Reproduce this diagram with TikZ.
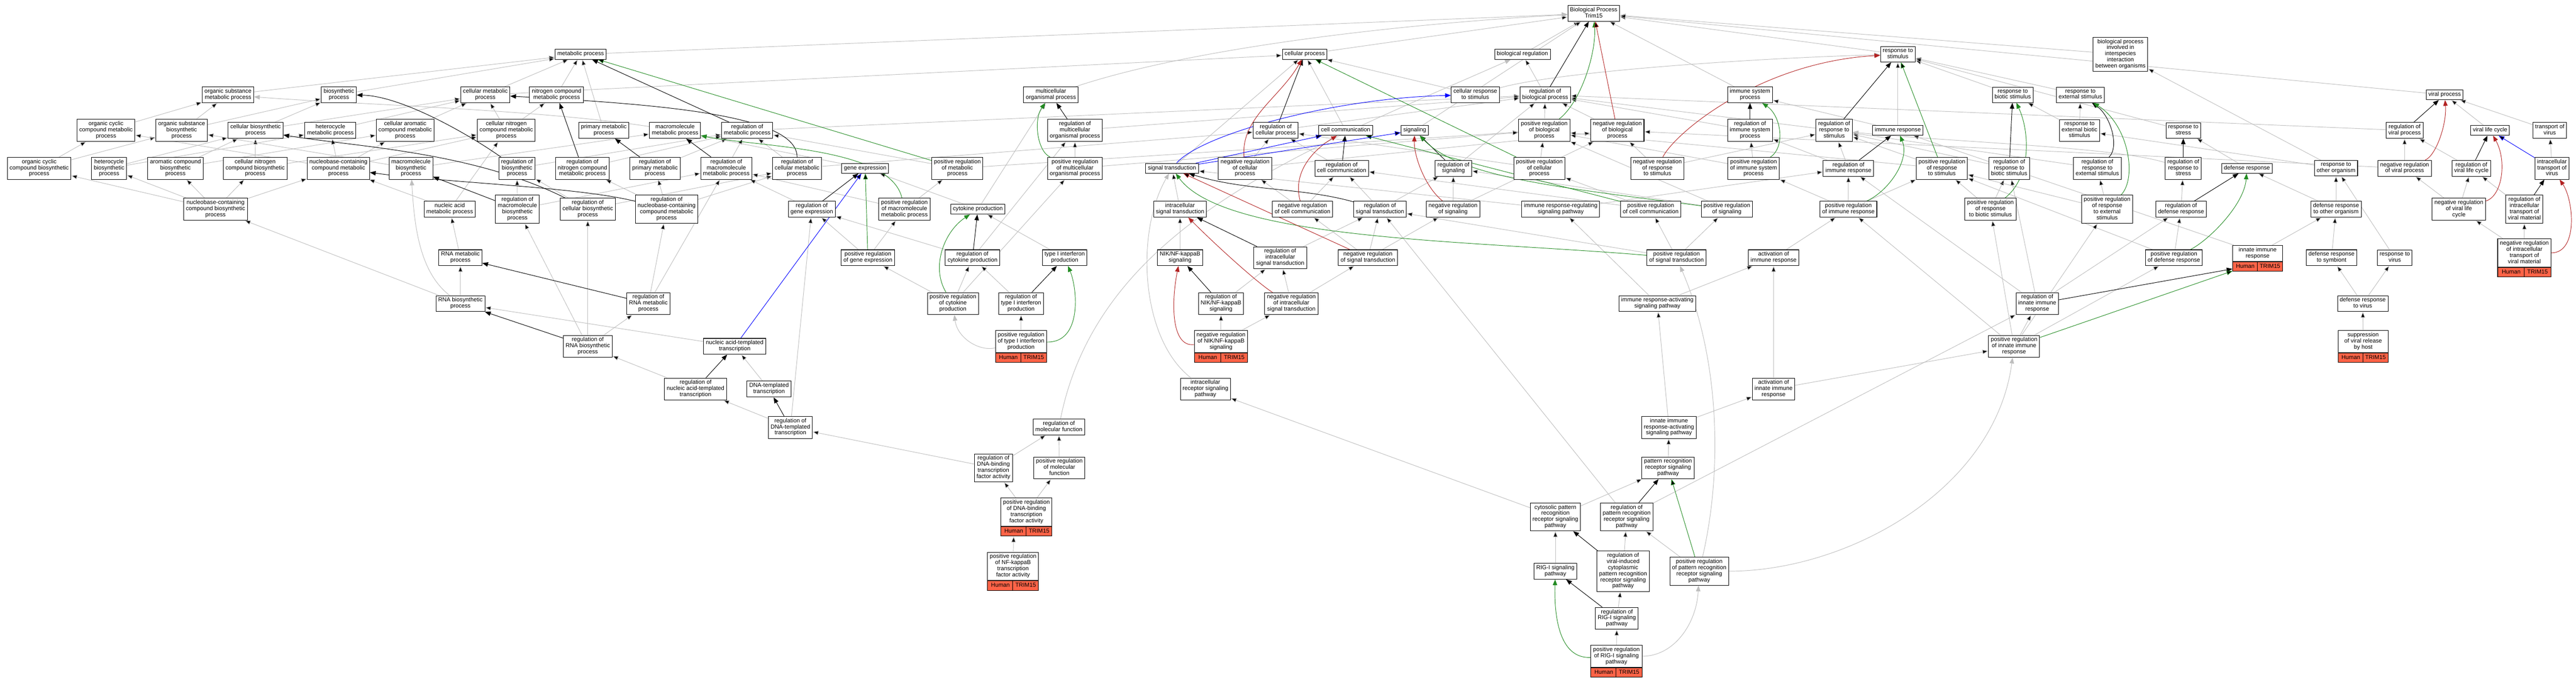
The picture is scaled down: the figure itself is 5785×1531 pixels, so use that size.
\documentclass[tikz,border=0pt]{standalone}
\usepackage{fontspec}
\setmainfont{Liberation Sans}
\usetikzlibrary{arrows.meta,calc}

\definecolor{isagray}{RGB}{190,190,190}
\definecolor{posgreen}{RGB}{34,139,34}
\definecolor{negred}{RGB}{178,34,34}
\definecolor{partblue}{RGB}{0,0,255}
\definecolor{hitred}{RGB}{255,99,71}

\pgfdeclarelayer{edges}
\pgfsetlayers{edges,main}

\newcommand{\gofont}{\fontsize{13}{13.7}\selectfont}
\newcommand{\gostrut}{\rule[-4pt]{0pt}{13.6pt}}
\newcommand{\hitrow}[1]{%
  \path let \p1=($(#1.east)-(#1.west)$) in
    node[hitcell, minimum width=0.5*\x1, anchor=north west] (#1-h) at (#1.south west) {Human}
    node[hitcell, minimum width=0.5*\x1, anchor=north east] (#1-t) at (#1.south east) {TRIM15};}

\begin{document}
\begin{tikzpicture}[x=1pt, y=1pt,
  term/.style={draw=black, line width=1.2pt, fill=white, align=center, font=\gofont,
    inner xsep=5pt, inner ysep=4.3pt, execute at begin node=\gostrut, execute at end node=\gostrut},
  hit/.style={term, minimum width=112},
  hitcell/.style={draw=black, line width=1.2pt, fill=hitred, font=\gofont, inner xsep=1pt,
    inner ysep=0pt, minimum height=21.5, text height=9.6pt, text depth=3pt},
  isa/.style={draw=isagray, line width=1.1pt, -{Triangle[length=13pt,width=10pt]}},
  regl/.style={isa, draw=black},
  posreg/.style={isa, draw=posgreen},
  negreg/.style={isa, draw=negred},
  partof/.style={isa, draw=partblue}]
\useasboundingbox (0,0) rectangle (5785,-1531);

\node[term] (bp) at (3579,-30) {Biological Process\\Trim15};

\node[term] (mp) at (1304,-122) {metabolic process};
\node[term] (cp) at (2930,-122) {cellular process};
\node[term] (breg) at (3419,-122) {biological regulation};
\node[term] (rstim) at (4262,-122) {response to\\stimulus};
\node[term] (bpint) at (4762,-122) {biological process\\involved in\\interspecies\\interaction\\between organisms};

\node[term] (osmp) at (512,-213) {organic substance\\metabolic process};
\node[term] (bsp) at (761,-213) {biosynthetic\\process};
\node[term] (cmp) at (1090,-213) {cellular metabolic\\process};
\node[term] (ncmp) at (1250,-213) {nitrogen compound\\metabolic process};
\node[term] (mop) at (2360,-213) {multicellular\\organismal process};
\node[term] (crs) at (3313,-213) {cellular response\\to stimulus};
\node[term] (rbp) at (3470,-213) {regulation of\\biological process};
\node[term] (isp) at (3930,-213) {immune system\\process};
\node[term] (rbs) at (4520,-213) {response to\\biotic stimulus};
\node[term] (res) at (4672,-213) {response to\\external stimulus};
\node[term] (vp) at (5490,-213) {viral process};

\node[term] (occmp) at (238,-293) {organic cyclic\\compound metabolic\\process};
\node[term] (osbp) at (408,-293) {organic substance\\biosynthetic\\process};
\node[term] (cbp) at (574,-293) {cellular biosynthetic\\process};
\node[term] (hmp) at (742,-293) {heterocycle\\metabolic process};
\node[term] (camp) at (910,-293) {cellular aromatic\\compound metabolic\\process};
\node[term] (cncmp) at (1137,-293) {cellular nitrogen\\compound metabolic\\process};
\node[term] (pmp) at (1356,-293) {primary metabolic\\process};
\node[term] (mmp) at (1516,-293) {macromolecule\\metabolic process};
\node[term] (rmp) at (1678,-293) {regulation of\\metabolic process};
\node[term] (rmop) at (2414,-293) {regulation of\\multicellular\\organismal process};
\node[term] (rcp) at (2865,-293) {regulation of\\cellular process};
\node[term] (cc) at (3022,-293) {cell communication};
\node[term] (sig) at (3177,-293) {signaling};
\node[term] (prbp) at (3468,-293) {positive regulation\\of biological\\process};
\node[term] (nrbp) at (3632,-293) {negative regulation\\of biological\\process};
\node[term] (risp) at (3930,-293) {regulation of\\immune system\\process};
\node[term] (rrs) at (4119,-293) {regulation of\\response to\\stimulus};
\node[term] (ir) at (4262,-293) {immune response};
\node[term] (rebs) at (4670,-293) {response to\\external biotic\\stimulus};
\node[term] (rstr) at (4903,-293) {response to\\stress};
\node[term] (rvp) at (5400,-293) {regulation of\\viral process};
\node[term] (vlc) at (5592,-293) {viral life cycle};
\node[term] (tv) at (5726,-293) {transport of\\virus};

\node[term] (occbp) at (88,-378) {organic cyclic\\compound biosynthetic\\process};
\node[term] (hbp) at (245,-378) {heterocycle\\biosynthetic\\process};
\node[term] (acbp) at (394,-378) {aromatic compound\\biosynthetic\\process};
\node[term] (cncbp) at (573,-378) {cellular nitrogen\\compound biosynthetic\\process};
\node[term] (nccmp) at (760,-378) {nucleobase-containing\\compound metabolic\\process};
\node[term] (mbp) at (923,-378) {macromolecule\\biosynthetic\\process};
\node[term] (rbsp) at (1161,-378) {regulation of\\biosynthetic\\process};
\node[term] (rncmp) at (1308,-378) {regulation of\\nitrogen compound\\metabolic process};
\node[term] (rpmp) at (1471,-378) {regulation of\\primary metabolic\\process};
\node[term] (rmmp) at (1631,-378) {regulation of\\macromolecule\\metabolic process};
\node[term] (rcmp) at (1790,-378) {regulation of\\cellular metabolic\\process};
\node[term] (ge) at (1943,-378) {gene expression};
\node[term] (prmp) at (2150,-378) {positive regulation\\of metabolic\\process};
\node[term] (prmop) at (2414,-378) {positive regulation\\of multicellular\\organismal process};
\node[term] (st) at (2632,-378) {signal transduction};
\node[term] (nrcp) at (2796,-378) {negative regulation\\of cellular\\process};
\node[term] (rcc) at (3013,-378) {regulation of\\cell communication};
\node[term] (rsig) at (3264,-378) {regulation of\\signaling};
\node[term] (prcp) at (3457,-378) {positive regulation\\of cellular\\process};
\node[term] (nrrs) at (3722,-378) {negative regulation\\of response\\to stimulus};
\node[term] (prisp) at (3938,-378) {positive regulation\\of immune system\\process};
\node[term] (rir) at (4151,-378) {regulation of\\immune response};
\node[term] (prrs) at (4361,-378) {positive regulation\\of response\\to stimulus};
\node[term] (rrbs) at (4512,-378) {regulation of\\response to\\biotic stimulus};
\node[term] (rres) at (4710,-378) {regulation of\\response to\\external stimulus};
\node[term] (rrstr) at (4903,-378) {regulation of\\response to\\stress};
\node[term] (dr) at (5046,-378) {defense response};
\node[term] (roo) at (5246,-378) {response to\\other organism};
\node[term] (nrvp) at (5400,-378) {negative regulation\\of viral process};
\node[term] (rvlc) at (5550,-378) {regulation of\\viral life cycle};
\node[term] (itv) at (5731,-378) {intracellular\\transport of\\virus};

\node[term] (ncbp) at (484,-470) {nucleobase-containing\\compound biosynthetic\\process};
\node[term] (namp) at (1010,-470) {nucleic acid\\metabolic process};
\node[term] (rmbp) at (1162,-470) {regulation of\\macromolecule\\biosynthetic\\process};
\node[term] (rcbp) at (1320,-470) {regulation of\\cellular biosynthetic\\process};
\node[term] (rnccmp) at (1497,-470) {regulation of\\nucleobase-containing\\compound metabolic\\process};
\node[term] (rge) at (1823,-470) {regulation of\\gene expression};
\node[term] (prmmp) at (2031,-470) {positive regulation\\of macromolecule\\metabolic process};
\node[term] (cytp) at (2196,-470) {cytokine production};
\node[term] (ist) at (2650,-470) {intracellular\\signal transduction};
\node[term] (nrcc) at (2925,-470) {negative regulation\\of cell communication};
\node[term] (rst) at (3099,-470) {regulation of\\signal transduction};
\node[term] (nrsig) at (3263,-470) {negative regulation\\of signaling};
\node[term] (irrsp) at (3505,-470) {immune response-regulating\\signaling pathway};
\node[term] (prcc) at (3707,-470) {positive regulation\\of cell communication};
\node[term] (prsig) at (3878,-470) {positive regulation\\of signaling};
\node[term] (prir) at (4151,-470) {positive regulation\\of immune response};
\node[term] (prrbs) at (4470,-470) {positive regulation\\of response\\to biotic stimulus};
\node[term] (prres) at (4732,-470) {positive regulation\\of response\\to external\\stimulus};
\node[term] (rdr) at (4898,-470) {regulation of\\defense response};
\node[term] (droo) at (5246,-470) {defense response\\to other organism};
\node[term] (nrvlc) at (5522,-470) {negative regulation\\of viral life\\cycle};
\node[term] (ritvm) at (5669,-470) {regulation of\\intracellular\\transport of\\viral material};

\node[term] (rnamp) at (1034,-579) {RNA metabolic\\process};
\node[term] (prge) at (1949,-579) {positive regulation\\of gene expression};
\node[term] (rcytp) at (2184,-579) {regulation of\\cytokine production};
\node[term] (tifp) at (2391,-579) {type I interferon\\production};
\node[term] (nik) at (2650,-579) {NIK/NF-kappaB\\signaling};
\node[term] (rist) at (2875,-579) {regulation of\\intracellular\\signal transduction};
\node[term] (nrst) at (3072,-579) {negative regulation\\of signal transduction};
\node[term] (prst) at (3765,-579) {positive regulation\\of signal transduction};
\node[term] (air) at (3983,-579) {activation of\\immune response};
\node[term] (prdr) at (4882,-579) {positive regulation\\of defense response};
\node[hit] (iir) at (5070,-569) {innate immune\\response};
\node[term] (drs) at (5236,-579) {defense response\\to symbiont};
\node[term] (rvir) at (5378,-579) {response to\\virus};
\node[hit] (nritvm) at (5669,-568) {negative regulation\\of intracellular\\transport of\\viral material};

\node[term] (rnabp) at (1034,-682) {RNA biosynthetic\\process};
\node[term] (rrnamp) at (1456,-682) {regulation of\\RNA metabolic\\process};
\node[term] (prcytp) at (2140,-682) {positive regulation\\of cytokine\\production};
\node[term] (rtifp) at (2293,-682) {regulation of\\type I interferon\\production};
\node[term] (rnik) at (2742,-682) {regulation of\\NIK/NF-kappaB\\signaling};
\node[term] (nrist) at (2900,-682) {negative regulation\\of intracellular\\signal transduction};
\node[term] (irasp) at (3722,-682) {immune response-activating\\signaling pathway};
\node[term] (riir) at (4575,-682) {regulation of\\innate immune\\response};
\node[term] (drv) at (5306,-682) {defense response\\to virus};

\node[term] (rrnabp) at (1320,-778) {regulation of\\RNA biosynthetic\\process};
\node[term] (natt) at (1650,-778) {nucleic acid-templated\\transcription};
\node[hit] (prtifp) at (2293,-767) {positive regulation\\of type I interferon\\production};
\node[hit] (nrnik) at (2742,-767) {negative regulation\\of NIK/NF-kappaB\\signaling};
\node[term] (priir) at (4523,-778) {positive regulation\\of innate immune\\response};
\node[hit] (svr) at (5307,-767) {suppression\\of viral release\\by host};

\node[term] (rnatt) at (1562,-874) {regulation of\\nucleic acid-templated\\transcription};
\node[term] (dtt) at (1727,-874) {DNA-templated\\transcription};
\node[term] (irsp) at (2707,-874) {intracellular\\receptor signaling\\pathway};
\node[term] (aiir) at (3983,-874) {activation of\\innate immune\\response};

\node[term] (rdtt) at (1775,-960) {regulation of\\DNA-templated\\transcription};
\node[term] (rmf) at (2378,-959) {regulation of\\molecular function};
\node[term] (iirasp) at (3748,-960) {innate immune\\response-activating\\signaling pathway};

\node[term] (rdbtf) at (2231,-1051) {regulation of\\DNA-binding\\transcription\\factor activity};
\node[term] (prmf) at (2379,-1051) {positive regulation\\of molecular\\function};
\node[term] (prrsp) at (3746,-1051) {pattern recognition\\receptor signaling\\pathway};

\node[hit] (prdbtf) at (2305,-1150) {positive regulation\\of DNA-binding\\transcription\\factor activity};
\node[term] (cprrsp) at (3493,-1161) {cytosolic pattern\\recognition\\receptor signaling\\pathway};
\node[term] (rprrsp) at (3653,-1161) {regulation of\\pattern recognition\\receptor signaling\\pathway};

\node[hit] (pnfkb) at (2275,-1272) {positive regulation\\of NF-kappaB\\transcription\\factor activity};
\node[term] (rigi) at (3493,-1283) {RIG-I signaling\\pathway};
\node[term] (rvicp) at (3645,-1283) {regulation of\\viral-induced\\cytoplasmic\\pattern recognition\\receptor signaling\\pathway};
\node[term] (pprrsp) at (3816,-1283) {positive regulation\\of pattern recognition\\receptor signaling\\pathway};

\node[term] (rrigi) at (3631,-1389) {regulation of\\RIG-I signaling\\pathway};
\node[hit] (prrigi) at (3630,-1474) {positive regulation\\of RIG-I signaling\\pathway};

\hitrow{iir}
\hitrow{nritvm}
\hitrow{prtifp}
\hitrow{nrnik}
\hitrow{svr}
\hitrow{prdbtf}
\hitrow{pnfkb}
\hitrow{prrigi}

\begin{pgfonlayer}{edges}
\path[isa]
 (mp) edge (bp) (cp) edge (bp) (breg) edge (bp) (rstim) edge (bp) (bpint) edge (bp)
 (isp) edge (bp) (vp) edge (bp) (sig) edge (bp)
 (osmp) edge (mp) (bsp) edge (mp) (cmp) edge (mp) edge (cp) (ncmp) edge (mp) (pmp) edge (mp)
 (cc) edge (cp) (st) edge (cp) (crs) edge (cp) (rbp) edge (breg)
 (rbs) edge (rstim) (res) edge (rstim) (ir) edge (rstim) edge (isp) (rstr) edge (rstim)
 (occmp) edge (osmp) (osbp) edge (osmp) edge (bsp) (cbp) edge (bsp) edge (cmp)
 (hmp) edge (cmp) (camp) edge (cmp) (cncmp) edge (cmp) edge (ncmp)
 (rmp) edge (rbp) (rmop) edge (rbp) (rcp) edge (rbp) (prbp) edge (rbp) (nrbp) edge (rbp)
 (risp) edge (rbp) (rrs) edge (rbp) (rvp) edge (rbp) (rsig) edge (rbp)
 (rebs) edge (res) edge (rbs) (vlc) edge (vp) (tv) edge (vp)
 (occbp) edge (occmp) edge (osbp) (hbp) edge (hmp) edge (cbp) (acbp) edge (camp) edge (cbp)
 (cncbp) edge (cbp) edge (cncmp)
 (nccmp) edge (hmp) edge (camp) edge (cncmp) edge (occmp) (mbp) edge (osbp) edge (mmp)
 (rbsp) edge (rmp) (rncmp) edge (rmp) (rpmp) edge (rmp) (rmmp) edge (rmp) (rcmp) edge (rmp) edge (rcp)
 (ge) edge (mmp) (prmp) edge (rmp) edge (prbp) (prmop) edge (rmop) edge (prbp)
 (nrcp) edge (rcp) edge (nrbp) (rcc) edge (rcp) (prcp) edge (rcp) edge (prbp)
 (nrrs) edge (rrs) edge (nrbp)
 (prisp) edge (risp) edge (prbp) (rir) edge (risp) edge (rrs) (prrs) edge (rrs) edge (prbp)
 (rrbs) edge (rrs) (rres) edge (rrs)
 (dr) edge (rstr) (roo) edge (rebs) edge (bpint) (nrvp) edge (rvp) edge (nrbp) (rvlc) edge (rvp) (itv) edge (tv)
 (ncbp) edge (occbp) edge (hbp) edge (acbp) edge (cncbp) edge (nccmp)
 (namp) edge (nccmp) edge (cncmp)
 (rmbp) edge (rbsp) edge (rmmp) (rcbp) edge (rbsp) edge (rcmp) (rnccmp) edge (rncmp) edge (rpmp) edge (rcmp)
 (rge) edge (rmmp) (prmmp) edge (rmmp) edge (prmp) (cytp) edge (mop) edge (ge) (ist) edge (st)
 (nrcc) edge (rcc) edge (nrcp) (rst) edge (rsig) edge (rcc) (nrsig) edge (rsig) edge (nrbp)
 (irrsp) edge (rir) edge (st)
 (prcc) edge (rcc) edge (prcp) (prsig) edge (rsig) edge (prbp) (prir) edge (rir) edge (prisp) edge (prrs)
 (prrbs) edge (rrbs) edge (prrs) (prres) edge (rres) edge (prrs) (rdr) edge (rrstr) (droo) edge (dr) edge (roo)
 (nrvlc) edge (rvlc) edge (nrvp) (ritvm) edge (rvlc)
 (rnamp) edge (namp) (prge) edge (rge) edge (prmmp) (rcytp) edge (rmop) edge (rge) (tifp) edge (cytp)
 (nik) edge (ist) (rist) edge (rst)
 (nrst) edge (rst) edge (nrsig) edge (nrcc) (prst) edge (rst) edge (prsig) edge (prcc) (air) edge (prir)
 (prdr) edge (rdr) edge (prrs) (iir) edge (ir) edge (droo) (drs) edge (droo) (rvir) edge (roo)
 (nritvm) edge (ritvm) edge (nrvlc)
 (rnabp) edge (rnamp) edge (ncbp) (rrnamp) edge (rnccmp) edge (rmmp)
 (prcytp) edge (rcytp) edge (prmop) edge (prge) (rtifp) edge (rcytp) (rnik) edge (rist)
 (nrist) edge (rist) edge (nrst)
 (irasp) edge (irrsp) edge (air) (riir) edge (rir) edge (rdr) edge (rrbs) (drv) edge (drs) edge (rvir)
 (rrnabp) edge (rrnamp) edge (rcbp) edge (rmbp) (natt) edge (rnabp) (prtifp) edge (rtifp)
 (nrnik) edge (rnik) edge (nrist) (priir) edge (riir) edge (prir) edge (prrbs) edge (prdr) edge (prres)
 (svr) edge (drv)
 (rnatt) edge (rrnabp) (dtt) edge (natt) (aiir) edge (priir) edge (air)
 (rdtt) edge (rnatt) edge (rge) (iirasp) edge (irasp) edge (aiir)
 (rdbtf) edge (rmf) edge (rdtt) (prmf) edge (rmf) (prrsp) edge (iirasp)
 (prdbtf) edge (rdbtf) edge (prmf) (cprrsp) edge (prrsp) edge (irsp) (rprrsp) edge (rst) edge (riir)
 (pnfkb) edge (prdbtf-h) (rigi) edge (cprrsp) (rvicp) edge (rprrsp) (pprrsp) edge (rprrsp)
 (rrigi) edge (rvicp) (prrigi) edge (rrigi);
\draw[isa] (mop) .. controls (2700,-100) and (3200,-50) .. (bp);
\draw[isa] (crs) .. controls (3500,-160) and (3950,-130) .. (rstim);
\draw[isa] (rmf) .. controls (2470,-500) and (2950,-330) .. (breg);
\draw[isa] (mmp) .. controls (1200,-245) and (800,-235) .. (osmp);
\draw[isa] (rrstr) .. controls (4750,-330) and (4400,-320) .. (rrs);
\draw[isa] (rnabp) .. controls (940,-610) and (930,-500) .. (mbp);
\draw[isa] (prtifp) .. controls (2200,-790) and (2150,-760) .. (prcytp);
\draw[isa] (irsp) .. controls (2560,-760) and (2550,-520) .. (st);
\draw[isa] (pprrsp) .. controls (3870,-1050) and (3860,-800) .. (prst);
\draw[isa] (pprrsp) .. controls (4150,-1283) and (4480,-1100) .. (priir);
\draw[isa] (prrigi) .. controls (3760,-1474) and (3810,-1400) .. (pprrsp);

\path[regl]
 (rmbp) edge (mbp)
 (rncmp) edge (ncmp) (rpmp) edge (pmp) (rmmp) edge (mmp) (rmp) edge (mp)
 (rrnamp) edge (rnamp) (rrnabp) edge (rnabp) (rge) edge (ge) (rnatt) edge (natt) (rdtt) edge (dtt)
 (rmop) edge (mop) (rcytp) edge (cytp) (rtifp) edge (tifp) (rist) edge (ist) (rnik) edge (nik)
 (rcp) edge (cp) (rcc) edge (cc) (rsig) edge (sig) (rbp) edge (bp)
 (risp) edge (isp) (rrs) edge (rstim) (rir) edge (ir) (rrbs) edge (rbs)
 (rrstr) edge (rstr) (rdr) edge (dr) (riir) edge (iir-h)
 (rvp) edge (vp) (rvlc) edge (vlc) (ritvm) edge (itv)
 (rprrsp) edge (prrsp) (rvicp) edge (cprrsp) (rrigi) edge (rigi);
\draw[regl] (rbsp) .. controls (1050,-300) and (900,-215) .. (bsp);
\draw[regl] (rcbp) .. controls (1060,-340) and (800,-330) .. (cbp);
\draw[regl] (rnccmp) .. controls (1300,-420) and (1000,-410) .. (nccmp);
\draw[regl] (rcmp) .. controls (1790,-260) and (1500,-235) .. (cmp);
\draw[regl] (rst) .. controls (2920,-420) and (2800,-430) .. (st);
\draw[regl] (rres) .. controls (4760,-330) and (4740,-260) .. (res);

\path[posreg]
 (prmp) edge (mp) (prge) edge (ge) (prcp) edge (cp) (prcc) edge (cc) (prrs) edge (rstim)
 (priir) edge (iir-h) (pprrsp) edge (prrsp);
\draw[posreg] (prmmp) .. controls (2000,-330) and (1700,-330) .. (mmp);
\draw[posreg] (prmop) .. controls (2330,-340) and (2320,-270) .. (mop);
\draw[posreg] (prcytp) .. controls (2090,-600) and (2120,-520) .. (cytp);
\draw[posreg] (prtifp) .. controls (2430,-770) and (2420,-650) .. (tifp);
\draw[posreg] (prbp) .. controls (3550,-230) and (3585,-120) .. (bp);
\draw[posreg] (prsig) .. controls (3500,-420) and (3280,-400) .. (sig);
\draw[posreg] (prst) .. controls (3300,-540) and (2750,-540) .. (st);
\draw[posreg] (prisp) .. controls (4010,-330) and (4000,-260) .. (isp);
\draw[posreg] (prir) .. controls (4240,-430) and (4290,-360) .. (ir);
\draw[posreg] (prrbs) .. controls (4560,-400) and (4560,-300) .. (rbs);
\draw[posreg] (prres) .. controls (4800,-400) and (4780,-280) .. (res);
\draw[posreg] (prdr) .. controls (4960,-540) and (5040,-460) .. (dr);
\draw[posreg] (prrigi) .. controls (3500,-1480) and (3490,-1380) .. (rigi);

\path[negreg]
 (nrbp) edge (bp) (nrst) edge (st);
\draw[negreg] (nrcp) .. controls (2786,-265) and (2874,-220) .. (cp);
\draw[negreg] (nrcc) .. controls (2900,-380) and (2960,-330) .. (cc);
\draw[negreg] (nrsig) .. controls (3200,-420) and (3175,-350) .. (sig);
\draw[negreg] (nrist) .. controls (2830,-640) and (2740,-560) .. (ist);
\draw[negreg] (nrnik) .. controls (2630,-780) and (2630,-680) .. (nik);
\draw[negreg] (nrrs) .. controls (3760,-300) and (3950,-140) .. (rstim);
\draw[negreg] (nrvp) .. controls (5470,-350) and (5495,-280) .. (vp);
\draw[negreg] (nrvlc) .. controls (5620,-440) and (5630,-360) .. (vlc);
\draw[negreg] (nritvm) .. controls (5790,-568) and (5780,-450) .. (itv);

\path[partof]
 (natt) edge (ge) (st) edge (cc) edge (sig) (itv) edge (vlc);
\draw[partof] (st) .. controls (2700,-300) and (3000,-220) .. (crs);
\end{pgfonlayer}
\end{tikzpicture}
\end{document}
